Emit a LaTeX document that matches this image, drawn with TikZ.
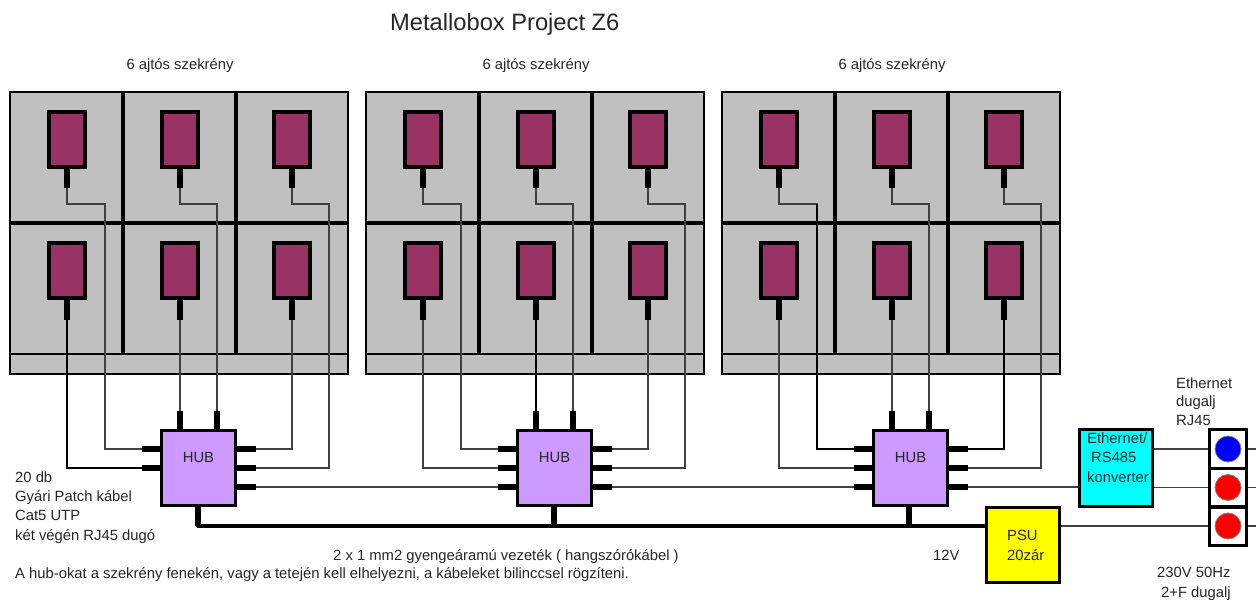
\documentclass[tikz,border=0pt]{standalone}
\usepackage{fontspec}
\setmainfont{Liberation Sans}
\definecolor{cabgray}{HTML}{C0C0C0}
\definecolor{lockred}{HTML}{993366}
\definecolor{hubviolet}{HTML}{CC99FF}
\definecolor{wiregray}{HTML}{404040}
\definecolor{convcyan}{HTML}{00FFFF}
\definecolor{psuyellow}{HTML}{FFFF00}
\definecolor{sockblue}{HTML}{0000FF}
\definecolor{sockred}{HTML}{FF0000}
\tikzset{
  cab/.style={draw=black,line width=2.6pt,fill=cabgray},
  sep/.style={draw=black,line width=3.2pt},
  lockbox/.style={draw=black,line width=3.2pt,fill=lockred,minimum width=36pt,minimum height=55pt,inner sep=0pt},
  plug/.style={line width=6.4pt,black},
  stub/.style={line width=6.4pt,black},
  wire/.style={line width=1.1pt,wiregray},
  wireb/.style={line width=2.2pt,black},
  bus/.style={line width=4pt,black},
  hubbox/.style={draw=black,line width=3pt,fill=hubviolet,minimum width=74pt,minimum height=75pt,inner sep=0pt},
  lab/.style={inner sep=0pt,font=\fontsize{14.8}{18}\selectfont,text height=12.5pt,text depth=1pt,text=black!85},
  sock/.style={draw=black,line width=3pt,fill=white,minimum width=37pt,minimum height=38pt,inner sep=0pt},
  dot/.style={circle,draw=gray,line width=0.8pt,minimum size=26pt,inner sep=0pt}
}
\begin{document}
\begin{tikzpicture}[x=1pt,y=-1pt]
\useasboundingbox (0,0) rectangle (1256,601);
\fill[white] (0,0) rectangle (1256,601);
\node[lab,font=\fontsize{23.7}{28}\selectfont,anchor=west,text height=19pt,text depth=2pt] (title) at (390,22) {Metallobox Project Z6};

\foreach \c/\ox in {a/0,b/356,c/712}{
\begin{scope}[shift={(\ox,0)}]
  \node[lab] (cap\c) at (180,64) {6 ajtós szekrény};
  \path[cab] (10,92) rectangle (348,374);
  \draw[sep] (10,223) -- (348,223);
  \draw[sep] (123,92) -- (123,354);
  \draw[sep] (236,92) -- (236,354);
  \draw[line width=2pt] (10,354) -- (348,354);
  \node[hubbox] (hub\c) at (198.5,468) {};
  \node[lab] (hubtxt\c) at (198.5,457) {HUB};
  \coordinate (T1\c) at (180,411);
  \coordinate (T2\c) at (217,411);
  \coordinate (L1\c) at (142,449);
  \coordinate (L2\c) at (142,468);
  \coordinate (L3\c) at (142,487);
  \coordinate (R1\c) at (256,449);
  \coordinate (R2\c) at (256,468);
  \coordinate (R3\c) at (256,487);
  \coordinate (B\c) at (198,526);
  \foreach \n/\lx/\dx in {1/67/105,2/180/217,3/292/329}{
    \node[lockbox] (lt\n\c) at (\lx,139.5) {};
    \coordinate (lte\n\c) at (\lx,188);
    \coordinate (ltk\n\c) at (\dx,204);
    \node[lockbox] (lb\n\c) at (\lx,270.5) {};
    \coordinate (lbe\n\c) at (\lx,320);
  }
  \draw[wire] (lte1\c) |- (ltk1\c) |- (L1\c);
  \draw[wire] (lte2\c) |- (ltk2\c) -- (T2\c);
  \draw[wire] (lte3\c) |- (ltk3\c) |- (R2\c);
  \draw[wire] (lbe1\c) |- (L2\c);
  \draw[wire] (lbe2\c) -- (T1\c);
  \draw[wire] (lbe3\c) |- (R1\c);
  \foreach \n in {1,2,3}{
    \draw[plug] (lt\n\c.south) -- (lte\n\c);
    \draw[plug] (lb\n\c.south) -- (lbe\n\c);
  }
  \draw[stub] (T1\c) -- (T1\c |- hub\c.north);
  \draw[stub] (T2\c) -- (T2\c |- hub\c.north);
  \draw[stub] (L1\c) -- (L1\c -| hub\c.west);
  \draw[stub] (L2\c) -- (L2\c -| hub\c.west);
  \draw[stub] (R1\c) -- (R1\c -| hub\c.east);
  \draw[stub] (R2\c) -- (R2\c -| hub\c.east);
  \draw[stub] (R3\c) -- (R3\c -| hub\c.east);
\end{scope}
}
% third left ports of the second and third hub
\draw[stub] (L3b) -- (L3b -| hubb.west);
\draw[stub] (L3c) -- (L3c -| hubc.west);

% heavier cable runs
\draw[wireb] (lbe1a) |- (L2a);
\draw[wireb] (lbe3c) |- (R1c);
\draw[wireb] (ltk1c) |- (L1c);
\draw[wireb] (lbe2b) -- (T1b);

% converter, PSU, sockets
\node[draw=black,line width=3pt,fill=convcyan,minimum width=73pt,minimum height=76pt,inner sep=0pt] (conv) at (1116,468) {};
\node[lab,anchor=west] (conv1) at (1087,438) {Ethernet/};
\node[lab,anchor=west] (conv2) at (1091,457) {RS485};
\node[lab,anchor=west] (conv3) at (1087,477) {konverter};
\node[draw=black,line width=3pt,fill=psuyellow,minimum width=73pt,minimum height=75pt,inner sep=0pt] (psu) at (1023,545) {};
\node[lab,anchor=west] (psu1) at (1007,535) {PSU};
\node[lab,anchor=west] (psu2) at (1007,555) {20zár};
\node[sock] (s1) at (1228,449) {};
\node[sock] (s2) at (1228,487.5) {};
\node[sock] (s3) at (1228,526) {};
\node[dot,fill=sockblue] (d1) at (s1) {};
\node[dot,fill=sockred] (d2) at (s2) {};
\node[dot,fill=sockred] (d3) at (s3) {};
\coordinate (e1) at (1256,449);
\coordinate (e2) at (1256,487.5);
\coordinate (e3) at (1256,526);

\draw[wire] (R3a) -- (L3b);
\draw[wire] (R3b) -- (L3c);
\draw[wire] (R3c) -- (R3c -| conv.west);
\draw[wire] (conv.east |- s1) -- (s1.west);
\draw[wire] (conv.east |- s2) -- (s2.west);
\draw[wire] (psu.east |- s3) -- (s3.west);
\draw[wire] (s1.east) -- (e1);
\draw[wire] (s2.east) -- (e2);
\draw[wire] (s3.east) -- (e3);

% 12 V bus
\draw[bus,line cap=round] (Ba) -- (psu.west |- Ba);
\draw[stub] (Ba) -- ([yshift=3pt]Ba |- huba.south);
\draw[stub] (Bb) -- ([yshift=3pt]Bb |- hubb.south);
\draw[stub] ([xshift=-1pt]Bc) -- ([xshift=-1pt,yshift=3pt]Bc |- hubc.south);

% labels
\node[lab,anchor=west] (n1) at (15,477) {20 db};
\node[lab,anchor=west] (n2) at (15,496) {Gyári Patch kábel};
\node[lab,anchor=west] (n3) at (15,515) {Cat5 UTP};
\node[lab,anchor=west] (n4) at (15,535) {két végén RJ45 dugó};
\node[lab,anchor=west] (n5) at (333,555) {2 x 1 mm2 gyengeáramú vezeték ( hangszórókábel )};
\node[lab,anchor=west] (n6) at (15,573) {A hub-okat a szekrény fenekén, vagy a tetején kell elhelyezni, a kábeleket bilinccsel rögzíteni.};
\node[lab,anchor=west] (n7) at (933,555) {12V};
\node[lab,anchor=west] (n8) at (1157,572) {230V 50Hz};
\node[lab,anchor=west] (n9) at (1161,592) {2+F dugalj};
\node[lab,anchor=west] (n10) at (1176,383) {Ethernet};
\node[lab,anchor=west] (n11) at (1176,401) {dugalj};
\node[lab,anchor=west] (n12) at (1176,420) {RJ45};
\end{tikzpicture}
\end{document}
